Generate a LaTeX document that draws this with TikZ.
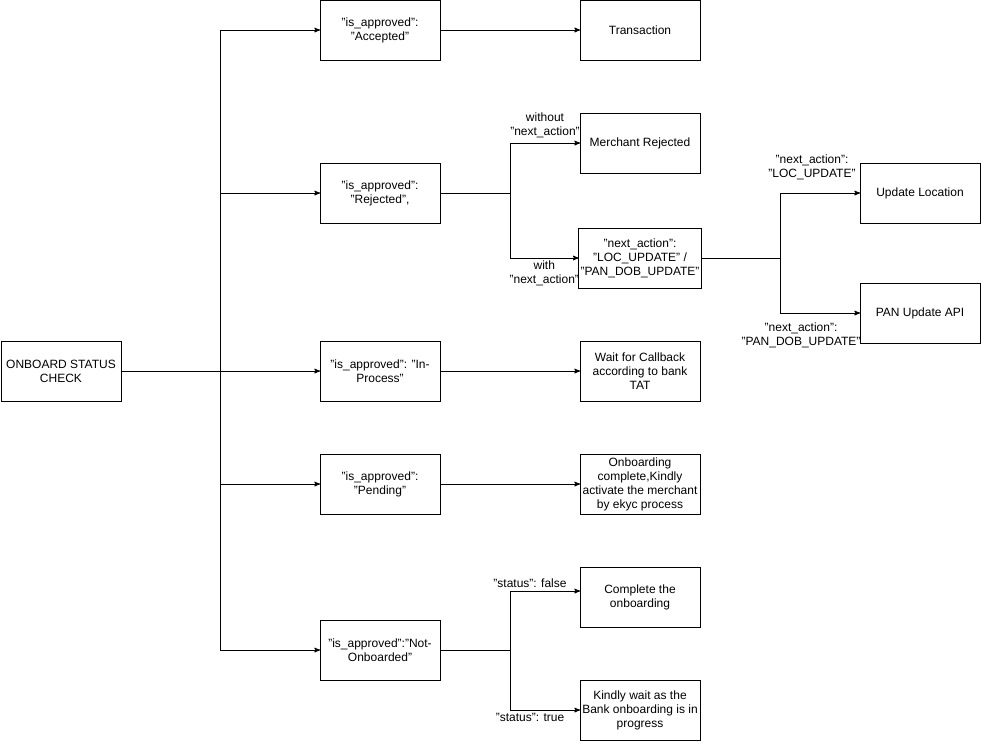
\documentclass[tikz,border=0pt]{standalone}
\usepackage{fontspec}
\setmainfont{Liberation Sans}
\usetikzlibrary{arrows,positioning,calc}

\tikzset{
  box/.style={draw, rectangle, minimum width=120pt, minimum height=60pt,
              align=center, inner sep=2pt, outer sep=0pt},
  lbl/.style={align=center, inner sep=1pt},
}

\begin{document}
\begin{tikzpicture}[x=1pt, y=-1pt, >=stealth', line width=1pt, node distance=140pt,
                    font=\fontsize{12}{14}\selectfont]
    \useasboundingbox (0,0) rectangle (992,753);

    \node[box]            (check)  at (61,371)  {ONBOARD STATUS\\CHECK};
    \node[box]            (acc)    at (380,30)  {"is\_approved":\\"Accepted"};
    \node[box]            (rej)    at (380,193) {"is\_approved":\\"Rejected",};
    \node[box]            (inproc) at (380,371) {"is\_approved": "In-\\Process"};
    \node[box]            (pend)   at (380,484) {"is\_approved":\\"Pending"};
    \node[box]            (notob)  at (380,650) {"is\_approved":"Not-\\Onboarded"};

    \node[box, right=of acc]    (trans) {Transaction};
    \node[box]                  (mrej)  at (640,143) {Merchant Rejected};
    \node[box]                  (nact)  at (640,258) {"next\_action":\\"LOC\_UPDATE" /\\"PAN\_DOB\_UPDATE"};
    \node[box]                  (uloc)  at (920,193) {Update Location};
    \node[box]                  (panapi) at (920,313) {PAN Update API};
    \node[box, right=of inproc] (wait)  {Wait for Callback\\according to bank\\TAT};
    \node[box, right=of pend]   (onbd)  {Onboarding\\complete,Kindly\\activate the merchant\\by ekyc process};
    \node[box]                  (compl) at (640,597) {Complete the\\onboarding};
    \node[box]                  (kwait) at (640,710) {Kindly wait as the\\Bank onboarding is in\\progress};

    \coordinate (split)  at (220,371);
    \coordinate (rsplit) at (510,193);
    \coordinate (nsplit) at (780,258);
    \coordinate (osplit) at (510,650);

    % main trunk
    \draw (check) -- (split);
    \foreach \n in {acc,rej,inproc,pend,notob}
        \draw[->] (split) |- (\n);

    \path[->]
    (acc)    edge (trans)
    (inproc) edge (wait)
    (pend)   edge (onbd)
    ;

    % rejected branch
    \draw (rej) -- (rsplit);
    \draw[->] (rsplit) |- node[lbl, above=4pt, pos=0.75] {without\\"next\_action"} (mrej);
    \draw[->] (rsplit) |- node[lbl, below=1pt, pos=0.75] {with\\"next\_action"} (nact);

    \draw (nact) -- (nsplit);
    \draw[->] (nsplit) |- node[lbl, above=12pt, pos=0.75, xshift=-8pt] {"next\_action":\\"LOC\_UPDATE"} (uloc);
    \draw[->] (nsplit) |- node[lbl, below=8pt, pos=0.75, xshift=-19pt] {"next\_action":\\"PAN\_DOB\_UPDATE"} (panapi);

    % not onboarded branch
    \draw (notob) -- (osplit);
    \draw[->] (osplit) |- node[lbl, above=2pt, pos=0.75, xshift=-15pt] {"status": false} ([yshift=6pt]compl.west);
    \draw[->] (osplit) |- node[lbl, below=2pt, pos=0.75, xshift=-15pt] {"status": true} (kwait);
\end{tikzpicture}
\end{document}
